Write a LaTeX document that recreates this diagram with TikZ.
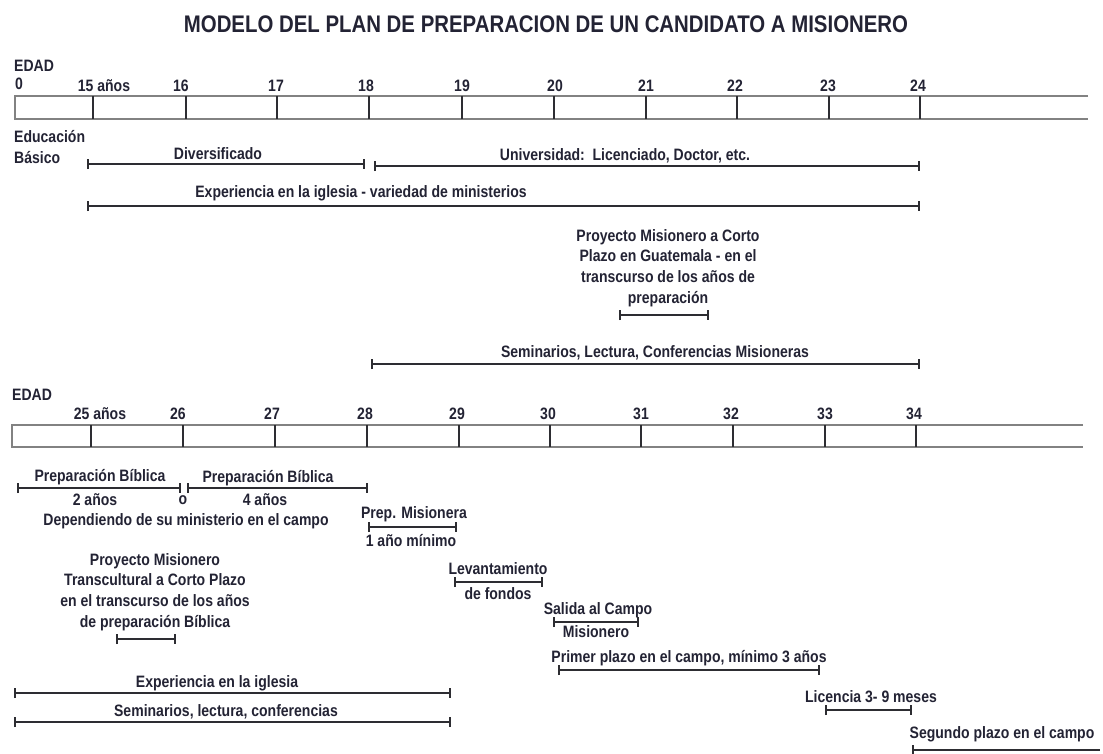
\documentclass[tikz,border=0pt]{standalone}
\usepackage{fontspec}
\setmainfont{Liberation Sans}[FakeStretch=0.85]
\usetikzlibrary{arrows.meta}
\definecolor{inkc}{RGB}{35,35,52}
\definecolor{boxc}{RGB}{130,130,130}
\definecolor{barc}{RGB}{45,45,50}

\begin{document}
\begin{tikzpicture}[x=1pt, y=-1pt,
    lbl/.style={font=\fontsize{16.5}{20.7}\selectfont\bfseries, text=inkc, inner sep=0pt},
    blk/.style={lbl, align=center, anchor=north},
    frame/.style={draw=boxc, line width=1.4pt},
    tick/.style={draw=barc, line width=1.4pt},
    bar/.style={draw=barc, line width=1.8pt, {Bar[width=10pt]}-{Bar[width=10pt]}}]
  \useasboundingbox[fill=white] (0,0) rectangle (1103,753);
  \node[lbl, font=\fontsize{24}{28}\selectfont\bfseries] (title) at (546,24)
    {MODELO DEL PLAN DE PREPARACION DE UN CANDIDATO A MISIONERO};

  % primera escala: 0 a 24 anos
  \node[lbl, anchor=west] (edad1) at (14,66) {EDAD};
  \node[lbl] (cero) at (19,84) {0};
  \draw[frame] (1088,96) -- (15,96) -- (15,119) -- (1088,119);
  \foreach \x/\a/\dx [count=\i] in {93/15 años/11, 186/16/-5, 277/17/-1, 369/18/-3, 462/19/0,
      554/20/1, 646/21/0, 737/22/-2, 829/23/-1, 920/24/-2}
    { \draw[tick] (\x,96) -- (\x,119);
      \node[lbl] (top\i) at (\x+\dx,86) {\a}; }

  \node[lbl, anchor=west] (edu) at (14,137) {Educación};
  \node[lbl, anchor=west] (bas) at (14,158) {Básico};
  \node[lbl] (div) at (218,154) {Diversificado};
  \node[lbl] (uni) at (625,156) {Universidad:\ \ Licenciado, Doctor, etc.};
  \node[lbl] (exp1) at (361,193) {Experiencia en la iglesia - variedad de ministerios};
  \node[blk] (gua) at (668,229)
    {Proyecto Misionero a Corto\\Plazo en Guatemala - en el\\transcurso de los años de\\preparación};
  \node[lbl] (sem1) at (655,353) {Seminarios, Lectura, Conferencias Misioneras};

  % segunda escala: 25 a 34 anos
  \node[lbl, anchor=west] (edad2) at (12,395) {EDAD};
  \draw[frame] (1083,425) -- (12,425) -- (12,447) -- (1083,447);
  \foreach \x/\a/\dx [count=\i] in {91/25 años/9, 183/26/-5, 275/27/-3, 367/28/-2, 459/29/-2,
      550/30/-2, 641/31/0, 733/32/-2, 825/33/0, 916/34/-2}
    { \draw[tick] (\x,425) -- (\x,447);
      \node[lbl] (bot\i) at (\x+\dx,414) {\a}; }

  \node[lbl] (pb1) at (100,477) {Preparación Bíblica};
  \node[lbl] (pb2) at (268,478) {Preparación Bíblica};
  \node[lbl] (dos) at (95,500) {2 años};
  \node[lbl] (ode) at (183,500) {o};
  \node[lbl] (cua) at (265,500) {4 años};
  \node[lbl] (dep) at (186,521) {Dependiendo de su ministerio en el campo};
  \node[blk] (tra) at (155,553)
    {Proyecto Misionero\\Transcultural a Corto Plazo\\en el transcurso de los años\\de preparación Bíblica};
  \node[lbl] (pmi) at (414,514) {Prep. Misionera};
  \node[lbl] (uno) at (411,541) {1 año mínimo};
  \node[lbl] (lev) at (498,569) {Levantamiento};
  \node[lbl] (fon) at (498,594) {de fondos};
  \node[lbl] (sal) at (598,610) {Salida al Campo};
  \node[lbl] (mis) at (596,632) {Misionero};
  \node[lbl] (pri) at (689,658) {Primer plazo en el campo, mínimo 3 años};
  \node[lbl] (lic) at (871,697) {Licencia 3- 9 meses};
  \node[lbl] (seg) at (1002,734) {Segundo plazo en el campo};
  \node[lbl] (exp2) at (217,683) {Experiencia en la iglesia};
  \node[lbl] (sem2) at (226,712) {Seminarios, lectura, conferencias};

  % barras de duracion
  \foreach \n/\a/\b/\y in {div/87/365/164, uni/374/920/166, exp1/87/920/206, gua/619/709/315,
      sem1/371/920/364, pb1/17/181/488, pb2/187/368/488, tra/116/176/639, pmi/368/457/527,
      lev/454/543/582, sal/553/639/622, pri/558/820/670, lic/825/912/710,
      exp2/14/451/693, sem2/14/451/722}
    { \coordinate (\n-l) at (\a,\y);
      \coordinate (\n-r) at (\b,\y);
      \draw[bar] (\n-l) -- (\n-r); }
  \coordinate (seg-l) at (912,750);
  \coordinate (seg-r) at (1100,750);
  \draw[bar, {Bar[width=10pt]}-] (seg-l) -- (seg-r);
\end{tikzpicture}
\end{document}
